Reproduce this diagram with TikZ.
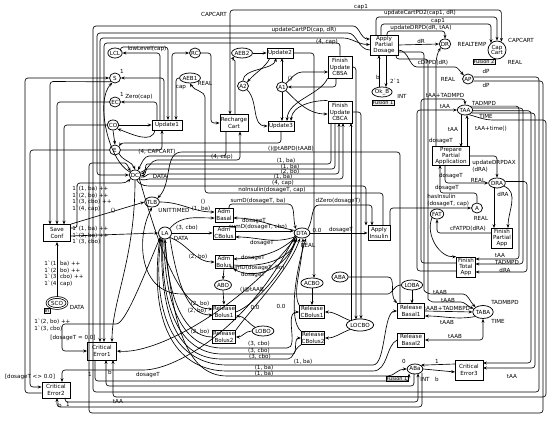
\documentclass[tikz,border=0pt]{standalone}
\usepackage{fontspec}
\setmainfont{DejaVu Sans}
\usetikzlibrary{shapes.geometric,arrows.meta,calc}
\newcommand\lf{\fontsize{5.6}{6.4}\selectfont}
\newcommand\bq{\textasciigrave}
\begin{document}
\begin{tikzpicture}[x=1pt,y=-1pt,
  pl/.style={draw,ellipse,inner sep=0pt,line width=0.75pt,font=\lf,minimum width=11pt,minimum height=10pt},
  tr/.style={draw,rectangle,inner sep=0.3pt,line width=0.8pt,align=center,font=\lf},
  tg/.style={draw,rectangle,inner sep=0.7pt,line width=0.5pt,fill=gray!15,font=\fontsize{5}{5.5}\selectfont},
  ar/.style={-{Stealth[length=3.8pt,width=3pt]},line width=0.65pt,rounded corners=3pt},
  bi/.style={{Stealth[length=3.8pt,width=3pt]}-{Stealth[length=3.8pt,width=3pt]},line width=0.65pt,rounded corners=3pt},
  lb/.style={inner sep=0.2pt,font=\lf},
  ll/.style={inner sep=0.2pt,font=\lf,align=left,anchor=north west},
]
\fill[white] (0,0) rectangle (550,422);
\path[use as bounding box] (0,0) rectangle (550,422);

% ---------------- places
\node[pl] (LCL) at (115,53) {LCL};
\node[pl] (S) at (115,78) {S};
\node[pl] (EC) at (115,102) {EC};
\node[pl] (CO) at (113,125) {CO};
\node[pl] (E) at (115,150) {E};
\node[pl] (DC) at (135,175) {DC};
\node[pl] (TLB) at (152,202) {TLB};
\node[pl,minimum width=13pt,minimum height=12pt] (LA) at (165,233) {LA};
\node[pl] (RC) at (195,53) {RC};
\node[pl] (AEB1) at (190,78) {AEB1};
\node[pl] (AEB2) at (242,53) {AEB2};
\node[pl] (A2) at (243,86) {A2};
\node[pl] (A1) at (282,87) {A1};
\node[pl] (OkB) at (382,92) {Ok\_B};
\node[pl] (DR) at (445,44) {DR};
\node[pl,align=center,minimum width=18pt,minimum height=18pt] (Cap) at (497,50) {Cap\\[-1pt]Cart};
\node[pl] (AP) at (468,79) {AP};
\node[pl] (TAA) at (465,110) {TAA};
\node[pl] (DRA) at (497,183) {DRA};
\node[pl] (A) at (477,208) {A};
\node[pl] (FAT) at (437,214) {FAT};
\node[pl] (DTA) at (302,233) {DTA};
\node[pl] (ABA) at (340,277) {ABA};
\node[pl] (ACBO) at (312,283) {ACBO};
\node[pl] (ABO) at (223,285) {ABO};
\node[pl] (LOBO) at (263,331) {LOBO};
\node[pl,minimum height=12pt] (LOCBO) at (360,325) {LOCBO};
\node[pl] (LOBA) at (412,285) {LOBA};
\node[pl,minimum height=13pt] (TABA) at (483,312) {TABA};
\node[pl] (ABa) at (415,369) {ABa};
\node[pl,double,double distance=1pt,minimum width=20pt,minimum height=11pt] (SCO) at (57,303) {SCO};
\node[tg] (tg1) at (383,103) {Fusion 1};
\node[tg] (tg2) at (484,62) {Fusion 2};
\node[tg] (tg3) at (397,379) {Fusion 1};
\node[tg] (tg4) at (47,311) {In};

% ---------------- transitions
\node[tr,minimum width=30pt,minimum height=10pt] (U1) at (167,125) {Update1};
\node[tr,minimum width=28pt,minimum height=17pt] (RCt) at (234,123) {Recharge\\Cart};
\node[tr,minimum width=26pt,minimum height=10pt] (U2) at (280,53) {Update2};
\node[tr,minimum width=26pt,minimum height=10pt] (U3) at (281,126) {Update3};
\node[tr,minimum width=24pt,minimum height=22pt] (FSA) at (340,67) {Finish\\Update\\CBSA};
\node[tr,minimum width=24pt,minimum height=22pt] (FCA) at (340,112) {Finish\\Update\\CBCA};
\node[tr,minimum width=28pt,minimum height=20pt] (APD) at (384,45) {Apply\\Partial\\Dosage};
\node[tr,minimum width=37pt,minimum height=18pt] (PPA) at (451,156) {Prepare\\Partial\\Application};
\node[tr,minimum width=21pt,minimum height=20pt] (FPA) at (502,238) {Finish\\Partial\\App};
\node[tr,minimum width=19pt,minimum height=20pt] (FTA) at (466,267) {Finish\\Total\\App};
\node[tr,minimum width=27pt,minimum height=17pt] (SC) at (57,233) {Save\\Conf};
\node[tr,minimum width=18pt,minimum height=14pt] (tAB) at (224,215) {Adm\\Basal};
\node[tr,minimum width=22pt,minimum height=13pt] (tACB) at (224,233) {Adm\\CBolus};
\node[tr,minimum width=18pt,minimum height=13pt] (tABo) at (224,262) {Adm\\Bolus};
\node[tr,minimum width=22pt,minimum height=15pt] (AI) at (379,233) {Apply\\Insulin};
\node[tr,minimum width=23pt,minimum height=14pt] (RB1) at (224,312) {Release\\Bolus1};
\node[tr,minimum width=23pt,minimum height=13pt] (RB2) at (224,337) {Release\\Bolus2};
\node[tr,minimum width=25pt,minimum height=13pt] (RCB1) at (312,312) {Release\\CBolus1};
\node[tr,minimum width=23pt,minimum height=13pt] (RCB2) at (313,338) {Release\\CBolus2};
\node[tr,minimum width=27pt,minimum height=15pt] (RBa1) at (411,311) {Release\\Basal1};
\node[tr,minimum width=27pt,minimum height=14pt] (RBa2) at (411,340) {Release\\Basal2};
\node[tr,minimum width=29pt,minimum height=18pt] (CE1) at (102,351) {Critical\\Error1};
\node[tr,minimum width=28pt,minimum height=16pt] (CE2) at (56,390) {Critical\\Error2};
\node[tr,minimum width=28pt,minimum height=20pt] (CE3) at (469,370) {Critical\\Error3};

% ---------------- top-left cluster
\draw[ar] (160,120) |- (LCL.east);
\draw[ar] (LCL.north east) |- (168,47) -- (168,120);
\draw[ar] (157,120) |- (EC.east);
\draw[ar] (164,120) |- (S.east);
\draw[ar] (172,120) |- (RC.west);
\draw[ar] (AEB1.west) -| (176,120);
\draw[ar] (CO.east) -- (U1.west);
\draw[ar] (E.east) -| (162,130);
\draw[ar] (155,130) to[out=-100,in=-20] (CO.south east);
\draw[ar] (CO.south) -- (E.north);
\draw[ar] (RC.east) -| (211,123) -- (RCt.west);
\draw[ar] (235,114.5) -- (235,64) to[out=90,in=-135] (AEB2.south west);
\draw[bi] (Cap.62) |- (230,10) -- (230,114.5);

% ---------------- Update2 / Update3 / A1 / A2
\draw[ar] (AEB2.east) -- (U2.west);
\draw[ar] (270,58) .. controls (265,68) and (256,72) .. (A2.north east);
\draw[ar] (A2.north) .. controls (243,68) and (274,70) .. (276,58);
\draw[ar] (A1.north) -- (282,58);
\draw[ar] (A2.south east) to[out=-45,in=180] (U3.west);
\draw[ar] (A1.south) -- (282,121);
\draw[ar] (FSA.south west) .. controls (320,95) and (288,100) .. (287,121);
\draw[ar] (FCA.north west) .. controls (315,100) and (292,105) .. (291,121);
\draw[ar] (A1.north east) to[out=45,in=180] (305,72) -- (328,72);
\draw[ar] (336,78) |- (A1.east);
\draw[ar] (A1.south east) to[out=-45,in=180] ($(FCA.west)+(0,2)$);
\draw[ar] (U2.east) -- (314,53) -- (314,278);
\draw[ar] (U3.south) -- (281,143) -- (128,143) to[out=180,in=60] (E.north east);

% ---------------- Cap Cart / Apply Partial Dosage / DR / AP
\draw[ar] (376,35) -- (376,17) -- (497,17) -- (Cap.north);
\draw[ar] (381,35) -- (381,24) -- (491,24) -- (491,43);
\draw[ar] (387,35) -- (387,31) -- (445,31) -- (DR.north);
\draw[ar] (APD.east) -- (DR.west);
\draw[ar] (398,50) to[out=0,in=180] (420,67) -- (452,67) to[out=0,in=135] (AP.north west);
\draw[ar] (379,87) -- (379,55);
\draw[ar] (386,55) -- (386,87);

% ---------------- DR / PPA / TAA
\draw[ar] (436,147) -- (436,75) to[out=90,in=-120] (DR.south west);
\draw[ar] (461,115) -- (461,147);
\draw[ar] (467,147) -- (467,115);
\draw[ar] ($(FTA.west)+(0,-4)$) -- (421,263) -- (421,99) -- (465,99) -- (TAA.north);
\draw[ar] ($(FTA.west)+(0,4)$) -- (417,271) -- (417,110) -- (TAA.west);
\draw[ar] (TAA.35) -| (519,259) -- (475.5,259);
\draw[ar] (TAA.15) -| (523,264) -- (475.5,264);
\draw[ar] (TAA.-5) -| (531,363) -- (483,363);
\draw[ar] (TAA.-25) -| (535,368) -- (483,368);
\draw[ar] (TAA.-50) to[out=-15,in=180] (495,120) -- (546,120) -- (546,397) -- (113,397) -- (113,360);
\draw[ar] (DRA.10) -| (527,272) -- (475.5,272);
\draw[ar] (PPA.east) -| (DRA.north);
\draw[ar] (445,165) |- (DRA.west);
\draw[ar] (494,187.5) -- (494,228);
\draw[ar] (DRA.-25) to[out=-20,in=90] (508,228);
\draw[ar] (491.5,233) -| (FAT.south);
\draw[ar] (FAT.south west) .. controls (425,235) and (440,258) .. (FTA.north west);
\draw[ar] (A.north) |- (440,193) -- (440,165);
\draw[ar] (390,225.5) |- (A.west);

% ---------------- AP big loops and top frame
\draw[ar] (AP.20) -| (539,392) -- (93,392) -- (93,26) -- (350,26) to[out=0,in=180] (370,39);
\draw[ar] (AP.-20) -| (543,413) -- (89,413) -- (89,163) -- (122,163) to[out=0,in=120] (DC.north west);
\draw[ar] (370,50) to[out=180,in=0] (345,33) -- (97,33) -- (97,175) -- (DC.west);
\draw[bi] (100,342) -- (100,38) -- (340,38) to[out=0,in=180] (370,44.5);
\draw[ar] (FSA.north) -- (340,43) -- (104,43) -- (104,342);

% ---------------- left side
\draw[ar] ($(CE2.west)+(0,3)$) -- (25,393) -- (25,78) -- (S.west);
\draw[ar] (E.west) -- (30,150) -- (30,387) -- ($(CE2.west)+(0,-3)$);
\draw[ar] (S.south west) -- (50,81.5) -- (50,224.5);
\draw[ar] (EC.west) -- (57,102) -- (57,224.5);
\draw[ar] (CO.west) -- (64,125) -- (64,224.5);
\draw[ar] (70.5,228) -- (77,228) -- (77,183) -- (118,183) to[out=0,in=-135] (DC.south west);
\draw[ar] (70.5,236) -- (LA.west);
\draw[ar] (SC.north east) -- (TLB.west);
\draw[ar] (SCO.north) -- (SC.south);
\draw[ar] (E.south east) to[out=-60,in=110] (DC.north);
\draw[ar] (DC.150) .. controls (108,160) and (95,100) .. (S.-120);
\draw[ar] (LA.south west) .. controls (140,285) and (125,324) .. (113,324) -- (62,324) -- (62,351) -- (CE1.west);
\draw[ar] (DTA.south west) .. controls (250,300) and (160,355) .. (CE1.east);
\draw[ar] (DTA.200) .. controls (255,320) and (180,370) .. (140,370) -- (62,370) -- (62,382);
\draw[ar] (DC.south) .. controls (135,260) and (112,300) .. (112,342);

% ---------------- bottom: ABa and critical errors
\draw[ar] (95,360) -- (95,381) -- (409,381) -- (409,373.5);
\draw[ar] (414,374) -- (414,386) -- (106,386) -- (106,360);
\draw[ar] (65,398) -- (65,402) -- (418,402) -- (418,373.5);
\draw[ar] (422,373) -- (422,407) -- (57,407) -- (57,398);
\draw[ar] (455,364) -- (ABa.north east);
\draw[ar] (ABa.east) -- (455,372);
\draw[ar] (LA.south) .. controls (172,320) and (185,376) .. (230,376) -- (385,376) to[out=0,in=180] (ABa.west);

% ---------------- LA fan
\draw[ar] (DC.south east) .. controls (160,250) and (180,309) .. (212.5,309);
\draw[ar] (LA.south east) .. controls (178,290) and (190,315) .. (212.5,315);
\draw[ar] (RB2.west) .. controls (185,337) and (168,300) .. (LA.south);
\draw[ar] (LA.-100) .. controls (165,320) and (190,348) .. (225,348) -- (284,348) to[out=0,in=180] (RCB1.west);
\draw[ar] (LA.-110) .. controls (160,325) and (190,354) .. (225,354) -- (290,354) to[out=0,in=180] (RCB2.west);
\draw[ar] (RCB2.south west) to[out=-150,in=0] (285,359) -- (225,359) .. controls (185,359) and (160,330) .. (LA.-120);
\draw[ar] (LA.-130) .. controls (150,330) and (185,365) .. (230,365) -- (370,365) .. controls (386,365) and (383,311) .. (RBa1.west);
\draw[ar] (RBa2.west) .. controls (386,345) and (388,371) .. (370,371) -- (230,371) .. controls (180,371) and (148,330) .. (LA.-140);

% ---------------- DTA fan
\draw[ar] (RB1.east) .. controls (255,305) and (285,270) .. ($(DTA.south)+(-5,0)$);
\draw[ar] (RB2.north east) .. controls (250,310) and (288,272) .. ($(DTA.south)+(-2,0)$);
\draw[ar] (RCB1.north west) .. controls (292,292) and (302,268) .. ($(DTA.south)+(1,0)$);
\draw[ar] (RCB2.north west) .. controls (288,320) and (296,270) .. ($(DTA.south)+(4,0)$);
\draw[ar] (DTA.south west) .. controls (280,252) and (262,258) .. ($(tABo.east)+(0,-3)$);
\draw[ar] ($(tABo.east)+(0,3)$) .. controls (265,268) and (292,258) .. ($(DTA.south)+(-7,0)$);
\draw[ar] (DTA.220) .. controls (285,275) and (250,278) .. (tABo.south east);
\draw[ar] (tABo.south) -- (ABO.north);
\draw[ar] (ABO.south) -- (RB1.north);
\draw[ar] (ACBO.south) -- (RCB1.north);
\draw[ar] (LOBO.north west) to[out=150,in=0] ($(RB1.east)+(0,4)$);
\draw[ar] (LOBO.west) to[out=180,in=0] (RB2.east);
\draw[ar] (LOCBO.north west) to[out=160,in=0] (RCB1.east);
\draw[ar] (LOCBO.south west) to[out=-160,in=0] (RCB2.east);
\draw[ar] (LOBA.south) -- (412,303.5);
\draw[ar] (ABA.east) -- (385,277) to[out=0,in=135] (RBa1.north west);
\draw[ar] (400,303.5) -- (400,152) -- (185,152) to[out=180,in=45] (TLB.north east);
\draw[ar] (LOBA.west) to[out=180,in=0] (385,294) -- (185,294) .. controls (140,294) and (135,240) .. (TLB.south);
\draw[ar] (RBa1.east) -- (TABA.west);
\draw[ar] (TABA.-150) to[out=190,in=0] ($(RBa1.east)+(0,5)$);
\draw[bi] (RBa2.east) -| (TABA.south);
\draw[ar] (398,52) -- (424,52) -- (424,287) to[out=-90,in=180] (434,294) -- (460,294) to[out=0,in=135] (TABA.north west);
\draw[ar] (396,55) -- (396,59) -- (428,59) -- (428,296) to[out=-90,in=180] (436,302) -- (458,302) to[out=0,in=160] (TABA.160);

% ---------------- Adm transitions
\draw[ar] (TLB.east) to[out=0,in=180] ($(tAB.west)+(0,-3)$);
\draw[ar] (LA.north east) to[out=50,in=180] ($(tAB.west)+(0,3)$);
\draw[ar] (229,208) -- (229,204) -- (285,204) to[out=0,in=110] (DTA.north west);
\draw[ar] (DTA.160) to[out=170,in=0] ($(tAB.east)+(0,3)$);
\draw[ar] (LA.east) -- (tACB.west);
\draw[ar] ($(tACB.east)+(0,-2)$) -- ($(DTA.west)+(0,-2)$);
\draw[ar] (DTA.210) to[out=200,in=0] ($(tACB.east)+(0,4)$);
\draw[ar] (LA.south east) to[out=-20,in=180] (tABo.west);

% ---------------- Apply Insulin
\draw[ar] (DTA.east) -- (AI.west);
\draw[ar] (DTA.north east) to[out=60,in=180] (322,205) -- (372,205) -- (372,225.5);
\draw[ar] (383,225.5) -- (383,193) -- (205,193) -- (205,100) to[out=90,in=-60] (AEB1.south);

% ---------------- DC <-> Finish Update CBCA, Recharge Cart
\draw[ar] (226,131.5) -- (226,156) -- (152,156) to[out=180,in=60] (DC.60);
\draw[ar] (DC.25) to[out=20,in=180] (160,160) -- (240,160) -- (240,131.5);
\draw[ar] (331,123) -- (331,164) -- (150,164) to[out=180,in=15] (DC.10);
\draw[ar] (335,123) -- (335,169) -- (150,169) to[out=180,in=0] (DC.-5);
\draw[ar] (DC.-20) to[out=-10,in=180] (152,174) -- (339,174) -- (339,123);
\draw[ar] (DC.-40) to[out=-30,in=180] (152,179) -- (343,179) -- (343,123);
\draw[ar] (DC.-70) to[out=-60,in=180] (155,186) -- (366,186) -- (366,225.5);
\draw[ar] (351,321) -- (351,123);
\draw[ar] (FSA.east) -| (356,319.5);
\draw[ar] (FCA.east) -| (361,319);

% ---------------- labels
\node[lb] at (147,49) {lowLevel(cap)};
\node[lb] at (122,71) {1};
\node[lb] at (122,94) {1};
\node[lb] at (139,97) {Zero(cap)};
\node[lb] at (181,88) {cap};
\node[lb] at (205,83) {REAL};
\node[lb] at (214,14) {CAPCART};
\node[lb] at (361,7) {cap1};
\node[lb] at (420,13) {updateCartPD2(cap1, dR)};
\node[lb] at (438,21) {cap1};
\node[lb] at (421,28) {updateDRPD(dR, tAA)};
\node[lb] at (304,30) {updateCartPD(cap, dR)};
\node[lb] at (327,42) {(4, cap)};
\node[lb] at (421,41) {dR};
\node[lb] at (472,44) {REALTEMP};
\node[lb] at (521,40) {CAPCART};
\node[lb] at (433,63) {cDPPD(dR)};
\node[lb] at (515,62) {REAL};
\node[lb] at (448,79) {REAL};
\node[lb] at (486,71) {dP};
\node[lb] at (486,85) {dP};
\node[lb] at (378,77) {b};
\node[lb] at (395,81) {2\bq1};
\node[lb] at (402,96) {INT};
\node[lb] at (290,79) {()};
\node[lb] at (445,95) {tAA+TADMPD};
\node[lb] at (445,106) {tAA};
\node[lb] at (484,103) {TADMPD};
\node[lb] at (486,116) {TIME};
\node[lb] at (453,129) {tAA};
\node[lb] at (491,129) {tAA+time()};
\node[lb] at (441,141) {dosageT};
\node[ll] at (472,160) {updateDRPDAX\\(dRA)};
\node[lb] at (451,176) {dosageT};
\node[lb] at (478,180) {REAL};
\node[lb] at (503,194) {dRA};
\node[lb] at (447,188) {dosageT};
\node[ll] at (427,194) {hasInsulin\\(dosageT, cap)};
\node[lb] at (481,218) {REAL};
\node[lb] at (468,229) {cFATPD(dRA)};
\node[lb] at (500,255) {tAA};
\node[lb] at (507,262) {TADMPD};
\node[lb] at (505,270) {dRA};
\node[lb] at (512,376) {tAA};
\node[lb] at (157,152) {(4, CAPCART)};
\node[lb] at (222,157) {(4, cap)};
\node[lb] at (291,149) {()@tABPD(tAAB)};
\node[lb] at (286,161) {(1, ba)};
\node[lb] at (290,166.5) {(1, ba)};
\node[lb] at (290,171.5) {(2, bo)};
\node[lb] at (283,177) {(1, ba)};
\node[lb] at (283,183) {(4, cap)};
\node[lb] at (272,190) {noInsulin(dosageT, cap)};
\node[lb] at (338,201) {dZero(dosageT)};
\node[lb] at (160,176) {DATA};
\node[lb] at (174,211) {UNITTIMED};
\node[lb] at (203,202) {()};
\node[lb] at (201,209) {(1, ba)};
\node[lb] at (258,201) {sumD(dosageT, ba)};
\node[lb] at (254,221) {dosageT};
\node[lb] at (187,228) {(3, cbo)};
\node[lb] at (258,227) {sumD(dosageT, cbo)};
\node[lb] at (181,238) {DATA};
\node[lb] at (262,243) {dosageT};
\node[lb] at (317,230) {0.0};
\node[lb] at (341,230) {dosageT};
\node[lb] at (308,245) {REAL};
\node[lb] at (198,257) {(2, bo)};
\node[lb] at (253,258) {dosageT};
\node[lb] at (257,268) {sumD(dosageT, bo)};
\node[lb] at (253,275) {dosageT};
\node[lb] at (252,290) {()@tAAB};
\node[lb] at (200,304) {(2, bo)};
\node[lb] at (197,311) {(2, bo)};
\node[lb] at (255,307) {0.0};
\node[lb] at (281,306) {0.0};
\node[lb] at (200,332) {(2, bo)};
\node[lb] at (259,344) {(3, cbo)};
\node[lb] at (259,351) {(3, cbo)};
\node[lb] at (260,357) {(3, cbo)};
\node[lb] at (303,362) {(1, ba)};
\node[lb] at (264,368) {(1, ba)};
\node[lb] at (264,374) {(1, ba)};
\node[lb] at (440,292) {tAAB};
\node[lb] at (448,300) {tAAB};
\node[lb] at (447,308) {tAAB+TADMBPD};
\node[lb] at (447,322) {tAAB};
\node[lb] at (455,336) {tAAB};
\node[lb] at (505,302) {TADMBPD};
\node[lb] at (498,321) {TIME};
\node[lb] at (404,361) {0};
\node[lb] at (437,361) {1};
\node[lb] at (425,379) {INT};
\node[lb] at (437,379) {b};
\node[ll] at (72,186) {1\bq(1, ba) ++\\1\bq(2, bo) ++\\1\bq(3, cbo) ++\\1\bq(4, cap)};
\node[lb] at (113,211) {()};
\node[ll] at (72,226) {1\bq(1, ba) ++\\1\bq(2, bo) ++\\1\bq(3, cbo)};
\node[ll] at (44,261) {1\bq(1, ba) ++\\1\bq(2, bo) ++\\1\bq(3, cbo) ++\\1\bq(4, cap)};
\node[lb] at (77,307) {DATA};
\node[ll] at (34,319) {1\bq(2, bo) ++\\1\bq(3, cbo)};
\node[lb] at (73,338) {[dosageT = 0.0]};
\node[lb] at (30,377) {[dosageT <> 0.0]};
\node[lb] at (90,374) {1};
\node[lb] at (110,372) {b};
\node[lb] at (148,375) {dosageT};
\node[lb] at (118,401) {tAA};
\node[lb] at (60,405) {b};
\node[lb] at (68,404) {1};
\end{tikzpicture}
\end{document}
